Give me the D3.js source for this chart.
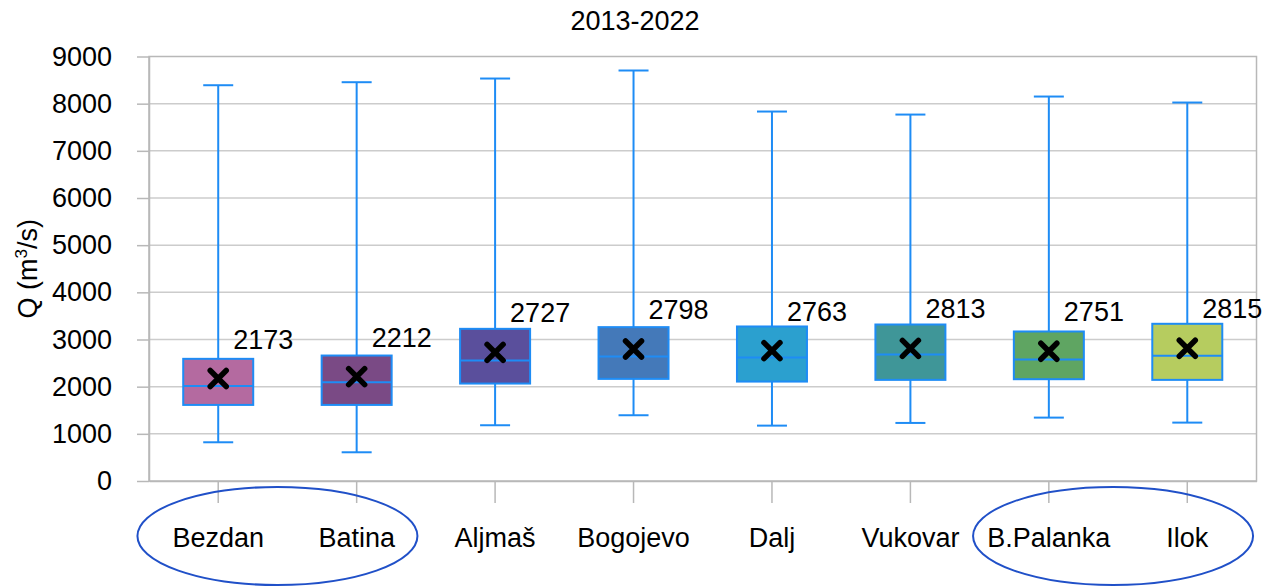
<!DOCTYPE html>
<html>
<head>
<meta charset="utf-8">
<script src="https://cdn.jsdelivr.net/npm/d3@7"></script>
<style>
  body { margin: 0; background: #fff; }
  text { font-family: "Liberation Sans", Arial, sans-serif; fill: #000; }
</style>
</head>
<body>
<script>
// Width and height
const w = 1266;
const h = 586;

// data
const stations = ["Bezdan", "Batina", "Aljmaš", "Bogojevo", "Dalj", "Vukovar", "B.Palanka", "Ilok"];
const whiskerLow = [821, 609, 1182, 1394, 1174, 1231, 1344, 1238];
const boxLow = [1613, 1613, 2066, 2165, 2108, 2144, 2158, 2144];
const medians = [2016, 2095, 2554, 2639, 2618, 2681, 2575, 2653];
const boxHigh = [2590, 2660, 3226, 3262, 3276, 3318, 3170, 3333];
const whiskerHigh = [8391, 8455, 8533, 8703, 7833, 7769, 8151, 8024];
const means = [2173, 2212, 2727, 2798, 2763, 2813, 2751, 2815];
const fills = ["#b46aa0", "#7a4a85", "#5a4f9c", "#4479b9", "#2ba0cf", "#3f9698", "#5fa562", "#b6cc5f"];
const yTicks = [0, 1000, 2000, 3000, 4000, 5000, 6000, 7000, 8000, 9000];
// the two circled groups of stations
const groups = [["Bezdan", "Batina"], ["B.Palanka", "Ilok"]];

const margin = {top: 56.5, right: 9.5, bottom: 105, left: 149};
const fs = 27;
const blue = "#1e8cf5";

const svg = d3.select("body")
            .append("svg")
            .attr("width", w)
            .attr("height", h);

const xScale = d3.scaleBand()
                .domain(stations)
                .range([margin.left, w - margin.right]);

const yScale = d3.scaleLinear()
                .domain([0, 9000])
                .range([h - margin.bottom, margin.top]);

const x0 = margin.left, x1 = w - margin.right;
const y0 = h - margin.bottom, y1 = margin.top;

// gridlines
svg.selectAll("line.grid")
    .data(yTicks.slice(1, -1))
    .join("line")
    .attr("class", "grid")
    .attr("x1", x0).attr("x2", x1)
    .attr("y1", d => yScale(d)).attr("y2", d => yScale(d))
    .attr("stroke", "#cccccc")
    .attr("stroke-width", 1.5);

// plot border
svg.append("rect")
    .attr("x", x0).attr("y", y1)
    .attr("width", x1 - x0).attr("height", y0 - y1)
    .attr("fill", "none")
    .attr("stroke", "#b8b8b8")
    .attr("stroke-width", 1.5);

// y axis
const yAxis = d3.axisLeft(yScale).tickValues(yTicks).tickFormat(d3.format("d"))
                .tickSize(12).tickSizeOuter(0).tickPadding(25);
const gy = svg.append("g").attr("transform", `translate(${x0},0)`).call(yAxis);
gy.select(".domain").attr("stroke", "#b8b8b8").attr("stroke-width", 1.5);
gy.selectAll(".tick line").attr("stroke", "#b8b8b8").attr("stroke-width", 1.5);
gy.selectAll(".tick text").style("font-size", fs + "px").style("font-family", "Liberation Sans, Arial, sans-serif");

// x axis
const xAxis = d3.axisBottom(xScale).tickSize(22).tickSizeOuter(0).tickPadding(25);
const gx = svg.append("g").attr("transform", `translate(0,${y0})`).call(xAxis);
gx.select(".domain").attr("stroke", "#b8b8b8").attr("stroke-width", 1.5);
gx.selectAll(".tick line").attr("stroke", "#b8b8b8").attr("stroke-width", 1.5);
gx.selectAll(".tick text").style("font-size", fs + "px").style("font-family", "Liberation Sans, Arial, sans-serif");

// title
svg.append("text")
    .attr("x", 635).attr("y", 30)
    .attr("text-anchor", "middle")
    .style("font-size", fs + "px")
    .text("2013-2022");

// y axis label
const yl = svg.append("text")
    .attr("transform", `translate(37,${(y0 + y1) / 2}) rotate(-90)`)
    .attr("text-anchor", "middle")
    .style("font-size", fs + "px");
yl.append("tspan").text("Q (m");
yl.append("tspan").attr("dy", -10).style("font-size", "17px").text("3");
yl.append("tspan").attr("dy", 10).text("/s)");

const boxW = 70, capW = 30;
const cx = d => xScale(d) + xScale.bandwidth() / 2;

const g = svg.selectAll("g.box")
    .data(stations)
    .join("g")
    .attr("class", "box");

// whiskers
g.append("line")
    .attr("x1", cx).attr("x2", cx)
    .attr("y1", (d, i) => yScale(whiskerLow[i]))
    .attr("y2", (d, i) => yScale(whiskerHigh[i]))
    .attr("stroke", blue).attr("stroke-width", 2);
[whiskerLow, whiskerHigh].forEach(arr => {
    g.append("line")
        .attr("x1", d => cx(d) - capW / 2).attr("x2", d => cx(d) + capW / 2)
        .attr("y1", (d, i) => yScale(arr[i])).attr("y2", (d, i) => yScale(arr[i]))
        .attr("stroke", blue).attr("stroke-width", 2);
});

// boxes
g.append("rect")
    .attr("x", d => cx(d) - boxW / 2)
    .attr("y", (d, i) => yScale(boxHigh[i]))
    .attr("width", boxW)
    .attr("height", (d, i) => yScale(boxLow[i]) - yScale(boxHigh[i]))
    .attr("fill", (d, i) => fills[i])
    .attr("stroke", blue).attr("stroke-width", 2);

// medians
g.append("line")
    .attr("x1", d => cx(d) - boxW / 2).attr("x2", d => cx(d) + boxW / 2)
    .attr("y1", (d, i) => yScale(medians[i])).attr("y2", (d, i) => yScale(medians[i]))
    .attr("stroke", blue).attr("stroke-width", 2);

// mean markers (x)
g.append("path")
    .attr("d", (d, i) => {
        const x = cx(d), y = yScale(means[i]), r = 8;
        return `M${x - r},${y - r}L${x + r},${y + r}M${x - r},${y + r}L${x + r},${y - r}`;
    })
    .attr("stroke", "#000").attr("stroke-width", 5.5)
    .attr("stroke-linecap", "round").attr("fill", "none");

// mean labels
g.append("text")
    .attr("x", d => cx(d) + 15)
    .attr("y", (d, i) => yScale(means[i]) - 30)
    .style("font-size", fs + "px")
    .text((d, i) => means[i]);

// ellipses around grouped stations (hand drawn, a bit left of centre)
svg.selectAll("ellipse")
    .data(groups)
    .join("ellipse")
    .attr("cx", (d, i) => (cx(d[0]) + cx(d[1])) / 2 - (i === 0 ? 10 : 5))
    .attr("cy", 536)
    .attr("rx", 140)
    .attr("ry", 49)
    .attr("fill", "none")
    .attr("stroke", "#2050c8")
    .attr("stroke-width", 2);
</script>
</body>
</html>
